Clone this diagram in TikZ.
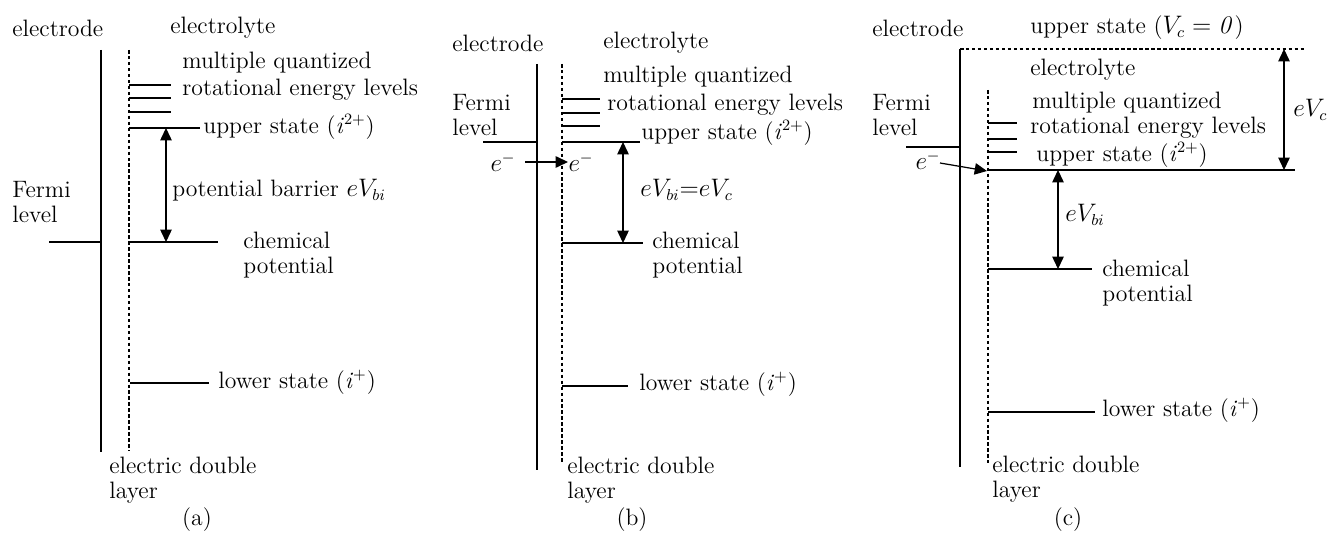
\documentclass[tikz,border=0pt]{standalone}
\usetikzlibrary{arrows.meta}
\tikzset{
  elec/.style={line width=1.2pt},
  edl/.style={line width=0.6pt, dash pattern=on 2pt off 1.4pt},
  lvl/.style={line width=0.7pt},
  gap/.style={line width=0.6pt, {Triangle[width=6.5pt,length=7pt]}-{Triangle[width=6.5pt,length=7pt]}},
  push/.style={line width=0.7pt, -{Triangle[width=6.5pt,length=7pt]}},
  lbl/.style={anchor=west, inner sep=0pt, align=left},
}
\begin{document}
\begin{tikzpicture}[x=0.02cm,y=-0.02cm, every node/.style={font=\fontsize{13.5}{14.5}\selectfont}]
\useasboundingbox (0,0) rectangle (1332,533);
% (a)
\node[lbl] (elA) at (12,28) {electrode};
\node[lbl] (lyA) at (170,28) {electrolyte};
\draw[elec] (101,50) -- (101,452);
\draw[edl] (129,50) -- (129,451);
\node[lbl] (mqA) at (182,63) {multiple quantized};
\node[lbl] (rotA) at (182,90) {rotational energy levels};
\foreach \y in {85,98,112} \draw[lvl] (129,\y) -- (171,\y);
\draw[lvl] (129,128) -- (200,128);
\node[lbl] (upA) at (203,127) {upper state (\textit{i}$^{2+}$)};
\coordinate (uA) at (166,128);
\coordinate (cA) at (166,242);
\draw[gap] (uA) -- (cA);
\node[lbl] (pbA) at (172,190) {potential barrier $eV_{bi}$};
\node[lbl] (feA) at (12,202) {Fermi\\level};
\draw[lvl] (49,242) -- (101,242);
\draw[lvl] (129,242) -- (218,242);
\node[lbl] (chA) at (243,255) {chemical\\potential};
\draw[lvl] (130,383) -- (209,383);
\node[lbl] (loA) at (218,382) {lower state (\textit{i}$^{+}$)};
\node[lbl] (edA) at (109,480) {electric double\\layer};
\node (capA) at (197,520) {(a)};
% (b)
\node[lbl] (elB) at (452,43) {electrode};
\node[lbl] (lyB) at (603,43) {electrolyte};
\draw[elec] (537,64) -- (537,470);
\draw[edl] (562,64) -- (562,463);
\node[lbl] (mqB) at (603,77) {multiple quantized};
\node[lbl] (rotB) at (607,105) {rotational energy levels};
\foreach \y in {99,113,126} \draw[lvl] (562,\y) -- (600,\y);
\draw[lvl] (562,142) -- (640,142);
\node[lbl] (upB) at (641,133) {upper state (\textit{i}$^{2+}$)};
\node[lbl] (feB) at (452,115) {Fermi\\level};
\draw[lvl] (483,142) -- (537,142);
\node (e1B) at (503,162) {$e^{-}$};
\node (e2B) at (581,162) {$e^{-}$};
\coordinate (s1B) at (525,162);
\coordinate (t1B) at (568,162);
\draw[push] (s1B) -- (t1B);
\coordinate (uB) at (623,142);
\coordinate (cB) at (623,243);
\draw[gap] (uB) -- (cB);
\node[lbl] (pbB) at (640,190) {$eV_{bi}{=}eV_c$};
\draw[lvl] (562,243) -- (643,243);
\node[lbl] (chB) at (652,255) {chemical\\potential};
\draw[lvl] (562,386) -- (628,386);
\node[lbl] (loB) at (639,384) {lower state (\textit{i}$^{+}$)};
\node[lbl] (edB) at (567,480) {electric double\\layer};
\node (capB) at (632,520) {(b)};
% (c)
\node[lbl] (elC) at (872,28) {electrode};
\node[lbl] (vcC) at (1030,28) {upper state ($V_c=\mathit{0}$)};
\draw[edl] (960,49) -- (1305,49);
\draw[elec] (960,49) -- (960,467);
\node[lbl] (lyC) at (1030,70) {electrolyte};
\draw[edl] (988,90) -- (988,463);
\node[lbl] (feC) at (872,115) {Fermi\\level};
\draw[lvl] (906,147) -- (960,147);
\node[lbl] (mqC) at (1032,103) {multiple quantized};
\node[lbl] (rotC) at (1030,128) {rotational energy levels};
\foreach \y in {123,139,152} \draw[lvl] (988,\y) -- (1017,\y);
\node[lbl] (upC) at (1036,155) {upper state (\textit{i}$^{2+}$)};
\draw[lvl] (988,170) -- (1295,170);
\node (e1C) at (928,160) {$e^{-}$};
\coordinate (s1C) at (940,163);
\coordinate (t1C) at (987,171);
\draw[push] (s1C) -- (t1C);
\coordinate (topC) at (1284,49);
\coordinate (uC) at (1284,170);
\draw[gap] (topC) -- (uC);
\node[lbl] (vcL) at (1293,110) {$eV_c$};
\coordinate (u2C) at (1058,170);
\coordinate (cC) at (1058,269);
\draw[gap] (u2C) -- (cC);
\node[lbl] (pbC) at (1065,215) {$eV_{bi}$};
\draw[lvl] (988,269) -- (1092,269);
\node[lbl] (chC) at (1102,283) {chemical\\potential};
\draw[lvl] (988,412) -- (1095,412);
\node[lbl] (loC) at (1102,410) {lower state (\textit{i}$^{+}$)};
\node[lbl] (edC) at (992,479) {electric double\\layer};
\node (capC) at (1068,520) {(c)};
\end{tikzpicture}
\end{document}
